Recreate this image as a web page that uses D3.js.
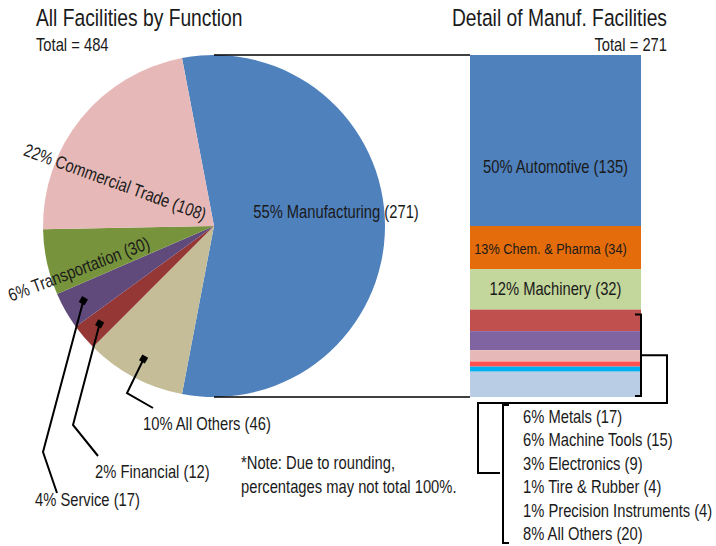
<!DOCTYPE html>
<html>
<head>
<meta charset="utf-8">
<script src="https://cdn.jsdelivr.net/npm/d3@7"></script>
<style>
  body { margin: 0; background: #fff; }
  svg text { font-family: "Liberation Sans", Arial, sans-serif; fill: #1a1a1a; }
</style>
</head>
<body>
<svg id="chart" width="716" height="546"></svg>
<script>
// all facilities, pie order (clockwise from manufacturing)
var pieCats = ['Manufacturing', 'All Others', 'Financial', 'Service', 'Transportation', 'Commercial Trade'];
var pieCounts = [271, 46, 12, 17, 30, 108];
var piePcts = ['55%', '10%', '2%', '4%', '6%', '22%'];
var pieColors = ['#4f81bd', '#c4bd97', '#953735', '#604a7b', '#77933c', '#e6b9b8'];

// manufacturing detail, top to bottom
var barCats = ['Automotive', 'Chem. & Pharma', 'Machinery', 'Metals', 'Machine Tools',
  'Electronics', 'Tire & Rubber', 'Precision Instruments', 'All Others'];
var barCounts = [135, 34, 32, 17, 15, 9, 4, 4, 20];
var barPcts = ['50%', '13%', '12%', '6%', '6%', '3%', '1%', '1%', '8%'];
var barColors = ['#4f81bd', '#e46c0a', '#c3d69b', '#c0504d', '#8064a2',
  '#e6b9b8', '#ff4f4f', '#00b0f0', '#b9cde5'];
var barTotal = 271;

var svg = d3.select('#chart');

// narrow text: Liberation Sans squeezed horizontally (no narrow face installed)
var NARROW = 0.82;
function txt(x, y, str, size, anchor, rot) {
  return svg.append('text')
    .attr('transform', 'translate(' + x + ',' + y + ') rotate(' + (rot || 0) + ') scale(' + NARROW + ',1)')
    .attr('text-anchor', anchor || 'start')
    .style('font-size', size + 'px')
    .text(str);
}

var cx = 214, cy = 226, r = 171;
var total = d3.sum(pieCounts);

// manufacturing slice centred on the right side
var half = Math.PI * pieCounts[0] / total;
var pie = d3.pie().sort(null).value(function (d) { return d; })
  .startAngle(Math.PI / 2 - half)
  .endAngle(Math.PI / 2 - half + 2 * Math.PI);
var arcs = pie(pieCounts);
var arc = d3.arc().innerRadius(0).outerRadius(r);
var markArc = d3.arc().innerRadius(r * 0.88).outerRadius(r * 0.88);

var g = svg.append('g').attr('transform', 'translate(' + cx + ',' + cy + ')');
g.selectAll('path.slice').data(arcs).enter().append('path')
  .attr('class', 'slice')
  .attr('d', arc)
  .attr('fill', function (d, i) { return pieColors[i]; });

// bar of manufacturing
var barX = 470, barW = 171;
var y = d3.scaleLinear().domain([0, d3.sum(barCounts)]).range([55, 397]);
var cum = d3.cumsum(barCounts);
var segs = barCounts.map(function (v, i) {
  return {v: v, i: i, y0: cum[i] - v, y1: cum[i]};
});
svg.selectAll('rect.seg').data(segs).enter().append('rect')
  .attr('class', 'seg')
  .attr('x', barX)
  .attr('y', function (d) { return y(d.y0); })
  .attr('width', barW)
  .attr('height', function (d) { return y(d.y1) - y(d.y0); })
  .attr('fill', function (d) { return barColors[d.i]; });

// series lines pie -> bar
svg.append('line').attr('x1', cx).attr('y1', cy - r).attr('x2', barX).attr('y2', y(0))
  .attr('stroke', '#000').attr('stroke-width', 1.5);
svg.append('line').attr('x1', cx).attr('y1', cy + r).attr('x2', barX).attr('y2', y(cum[cum.length - 1]))
  .attr('stroke', '#000').attr('stroke-width', 1.5);

// titles
txt(36, 26, 'All Facilities by Function', 23.5);
txt(36, 51, 'Total = ' + total, 18);
txt(667, 26, 'Detail of Manuf. Facilities', 23.5, 'end');
txt(667, 51, 'Total = ' + barTotal, 18, 'end');

function label(i) { return piePcts[i] + ' ' + pieCats[i] + ' (' + pieCounts[i] + ')'; }

// in-slice labels
txt(336, 218, label(0), 18, 'middle');
txt(113, 188, label(5), 18, 'middle', 20);
txt(81, 275, label(4), 18, 'middle', -21);

// callout labels with leader lines
var callouts = [
  {i: 1, elbow: [127, 393], end: [153, 408], tx: 143, ty: 430},
  {i: 2, elbow: [73, 425], end: [98, 456], tx: 95, ty: 478},
  {i: 3, elbow: [43, 452], end: [57, 493], tx: 35, ty: 506}
];
callouts.forEach(function (c) {
  var p = markArc.centroid(arcs[c.i]);
  var px = cx + p[0], py = cy + p[1];
  svg.append('path')
    .attr('d', d3.line()([[px, py], c.elbow, c.end]))
    .attr('fill', 'none').attr('stroke', '#000').attr('stroke-width', 2);
  svg.append('path')
    .attr('d', d3.symbol().type(d3.symbolSquare).size(45)())
    .attr('transform', 'translate(' + px + ',' + py + ') rotate(30)')
    .attr('fill', '#000');
  txt(c.tx, c.ty, label(c.i), 18);
});

// bar labels for the big segments
[0, 1, 2].forEach(function (i) {
  var s = segs[i];
  var ty = i === 0 ? 173 : (y(s.y0) + y(s.y1)) / 2 + 6;
  var tx = barX + barW / 2 - (i === 1 ? 5 : 0);
  txt(tx, ty, barPcts[i] + ' ' + barCats[i] + ' (' + barCounts[i] + ')',
    i === 1 ? 15.5 : 18, 'middle');
});

// brackets for the small segments
var bTop = y(segs[3].y0) + 5, bBot = y(cum[cum.length - 1]) - 1, bx = 641;
var bMid = (bTop + bBot) / 2;
var stroke = function (sel) { return sel.attr('fill', 'none').attr('stroke', '#000').attr('stroke-width', 2); };
stroke(svg.append('path').attr('d', d3.line()([[bx - 6, bTop], [bx, bTop], [bx, bBot], [bx - 6, bBot]])));
stroke(svg.append('path').attr('d', d3.line()([[bx, bMid], [667, bMid], [667, 403], [478, 403], [478, 473], [500, 473]])));

var lx = 503, lTop = 405, lBot = 543;
stroke(svg.append('path').attr('d', d3.line()([[lx + 6, lTop], [lx, lTop], [lx, lBot], [lx + 6, lBot]])));

segs.slice(3).forEach(function (d, k) {
  txt(523, 423 + k * 23.4, barPcts[d.i] + ' ' + barCats[d.i] + ' (' + barCounts[d.i] + ')', 18);
});

// note
txt(241, 469, '*Note: Due to rounding,', 18);
txt(241, 493, 'percentages may not total 100%.', 18);
</script>
</body>
</html>
